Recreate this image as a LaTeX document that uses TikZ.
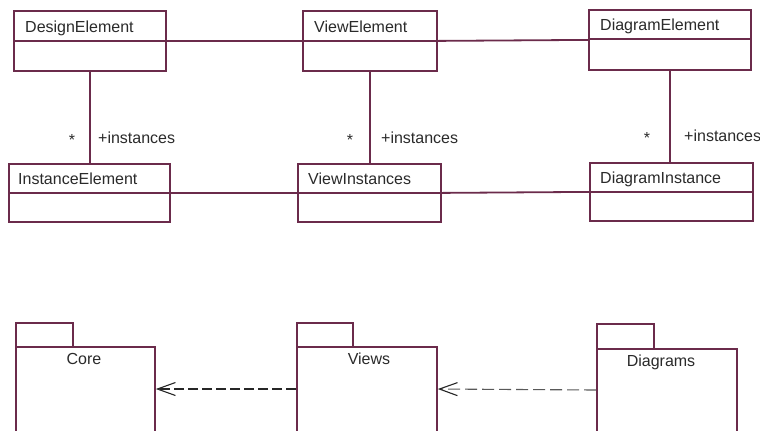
\documentclass[tikz,border=0pt]{standalone}
\usepackage{fontspec}
\setmainfont{Liberation Sans}
\usetikzlibrary{arrows.meta,calc}
\definecolor{umlline}{HTML}{6B2B4B}
\definecolor{umltext}{HTML}{2A2A2A}
\tikzset{
  box/.style={draw=umlline, line width=1.8bp, fill=white, inner sep=0pt, anchor=north west},
  title/.style={anchor=mid west, inner sep=0pt, text=umltext, font=\fontsize{16bp}{18bp}\selectfont},
  lbl/.style={anchor=mid west, inner sep=0pt, text=umltext, font=\fontsize{16bp}{18bp}\selectfont},
  star/.style={anchor=mid, inner sep=0pt, text=umltext, font=\fontsize{16bp}{18bp}\selectfont},
  assoc/.style={draw=umlline, line width=1.8bp},
  divider/.style={draw=umlline, line width=1.8bp},
  deparrow/.style={line width=1.6bp, draw=black!85, dash pattern=on 10bp off 4bp,
    -{Straight Barb[length=18bp,width=13bp,line width=1.1bp]}},
  deparrowlight/.style={line width=1.1bp, draw=black!65, dash pattern=on 12bp off 5bp,
    -{Straight Barb[length=18bp,width=13bp,line width=1.1bp,color=black!85]}},
}
\begin{document}
\begin{tikzpicture}[x=1bp,y=-1bp]
\useasboundingbox (0,0) rectangle (760,430);
% classes
\node[box, minimum width=152bp, minimum height=60bp] (de) at (13,10) {};
\draw[divider] (13,41) -- (165,41);
\node[title] (det) at (25,30) {DesignElement};

\node[box, minimum width=134bp, minimum height=60bp] (ve) at (302,10) {};
\draw[divider] (302,41) -- (436,41);
\node[title] (vet) at (314,30) {ViewElement};

\node[box, minimum width=162bp, minimum height=60bp] (dge) at (588,9) {};
\draw[divider] (588,39) -- (750,39);
\node[title] (dget) at (600,28) {DiagramElement};

\node[box, minimum width=161bp, minimum height=58bp] (ie) at (8,163) {};
\draw[divider] (8,193) -- (169,193);
\node[title] (iet) at (18,182) {InstanceElement};

\node[box, minimum width=143bp, minimum height=58bp] (vi) at (297,163) {};
\draw[divider] (297,193) -- (440,193);
\node[title] (vit) at (308,182) {ViewInstances};

\node[box, minimum width=163bp, minimum height=58bp] (di) at (589,162) {};
\draw[divider] (589,192) -- (752,192);
\node[title] (dit) at (600,181) {DiagramInstance};

% associations
\draw[assoc] (de.east) -- (ve.west);
\draw[assoc] (ve.east) -- (dge.west);
\draw[assoc] (ie.east) -- (vi.west);
\draw[assoc] (vi.east) -- (di.west);
\draw[assoc] (de.south) -- (de.south |- ie.north);
\draw[assoc] (ve.south) -- (ve.south |- vi.north);
\draw[assoc] (dge.south) -- (dge.south |- di.north);

% labels
\node[star] (s1) at (72,143) {*};
\node[lbl] (l1) at (98,141) {+instances};
\node[star] (s2) at (350,143) {*};
\node[lbl] (l2) at (381,141) {+instances};
\node[star] (s3) at (647,141) {*};
\node[lbl] (l3) at (684,139) {+instances};

% packages
\node[box, minimum width=57bp, minimum height=24bp] (coretab) at (15,322) {};
\node[box, minimum width=139bp, minimum height=100bp] (core) at (15,346) {};
\node[star] (coret) at (84,362) {Core};

\node[box, minimum width=56bp, minimum height=24bp] (viewstab) at (296,322) {};
\node[box, minimum width=140bp, minimum height=100bp] (views) at (296,346) {};
\node[star] (viewst) at (369,362) {Views};

\node[box, minimum width=57bp, minimum height=25bp] (diagtab) at (596,323) {};
\node[box, minimum width=140bp, minimum height=100bp] (diag) at (596,348) {};
\node[star] (diagt) at (661,364) {Diagrams};

% dependencies
\coordinate (a1) at ($(views.north west)+(0,43)$);
\draw[deparrow] (a1) -- (a1 -| core.east);
\coordinate (a2) at ($(diag.north west)+(0,42)$);
\draw[deparrowlight] (a2) -- ($(views.north east)+(0,43)$);
\end{tikzpicture}
\end{document}
